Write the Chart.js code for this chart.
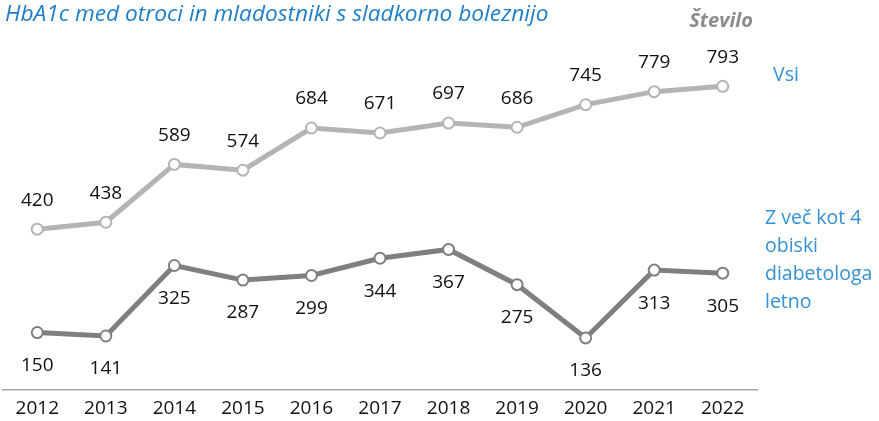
<!DOCTYPE html>
<html>
<head>
<meta charset="utf-8">
<script src="https://cdn.jsdelivr.net/npm/chart.js@4"></script>
<style>
html,body{margin:0;padding:0;background:#fff;}
#wrap{position:relative;width:879px;height:421px;}
</style>
</head>
<body>
<div id="wrap"><canvas id="c" width="879" height="421"></canvas></div>
<script>
const years = ['2012','2013','2014','2015','2016','2017','2018','2019','2020','2021','2022'];
const vsi = [420,438,589,574,684,671,697,686,745,779,793];
const vecKot4 = [150,141,325,287,299,344,367,275,136,313,305];
const seriesNames = ['Vsi', ['Z več kot 4','obiski','diabetologa','letno']];
const titleText = 'HbA1c med otroci in mladostniki s sladkorno boleznijo';
const unitText = 'Število';

const FONT = '"Open Sans", Lato, sans-serif';

const labelPlugin = {
  id: 'labels',
  afterDatasetsDraw(chart) {
    const ctx = chart.ctx;
    ctx.save();
    ctx.font = '19px ' + FONT;
    ctx.fillStyle = '#111';
    ctx.textAlign = 'center';
    ctx.textBaseline = 'middle';
    chart.data.datasets.forEach((ds, di) => {
      const meta = chart.getDatasetMeta(di);
      meta.data.forEach((pt, i) => {
        const off = di === 0 ? -29 : 33;
        ctx.fillText(String(ds.data[i]), pt.x, pt.y + off);
      });
    });
    ctx.restore();
  },
  afterDraw(chart) {
    const ctx = chart.ctx;
    ctx.save();
    ctx.textBaseline = 'middle';
    ctx.textAlign = 'left';
    ctx.font = 'italic 22.7px ' + FONT;
    ctx.fillStyle = '#1f7fc8';
    ctx.fillText(titleText, 5, 15);
    ctx.textAlign = 'right';
    ctx.font = 'italic bold 20px ' + FONT;
    ctx.fillStyle = '#8c8c8c';
    ctx.fillText(unitText, 753, 21);
    ctx.textAlign = 'left';
    ctx.font = '19.5px ' + FONT;
    ctx.fillStyle = '#3391d4';
    ctx.fillText(seriesNames[0], 773, 75);
    seriesNames[1].forEach((t, i) => ctx.fillText(t, 765, 218 + i * 28));
    ctx.restore();
  }
};

new Chart(document.getElementById('c'), {
  type: 'line',
  data: {
    labels: years,
    datasets: [
      {
        data: vsi,
        borderColor: '#b4b4b4',
        backgroundColor: '#b4b4b4',
        borderWidth: 5,
        pointRadius: 5.5,
        pointBorderWidth: 2,
        pointBackgroundColor: '#ffffff',
        pointBorderColor: '#b4b4b4',
        tension: 0,
        clip: false
      },
      {
        data: vecKot4,
        borderColor: '#7f7f7f',
        backgroundColor: '#7f7f7f',
        borderWidth: 5,
        pointRadius: 5.5,
        pointBorderWidth: 2,
        pointBackgroundColor: '#ffffff',
        pointBorderColor: '#7f7f7f',
        tension: 0,
        clip: false
      }
    ]
  },
  options: {
    responsive: false,
    animation: false,
    layout: { autoPadding: false, padding: { left: 3, right: 122, top: 7, bottom: 0 } },
    plugins: { legend: { display: false }, tooltip: { enabled: false } },
    scales: {
      x: {
        offset: true,
        grid: { display: false, drawTicks: false },
        border: { display: true, color: '#a6a6a6', width: 1.5 },
        ticks: { color: '#111', font: { family: FONT, size: 19 }, padding: 7, maxRotation: 0 },
        afterFit(s) { s.height = 31; s.paddingLeft = 0; s.paddingRight = 0; }
      },
      y: {
        display: false,
        min: 0,
        max: 1000
      }
    }
  },
  plugins: [labelPlugin]
});
</script>
</body>
</html>
